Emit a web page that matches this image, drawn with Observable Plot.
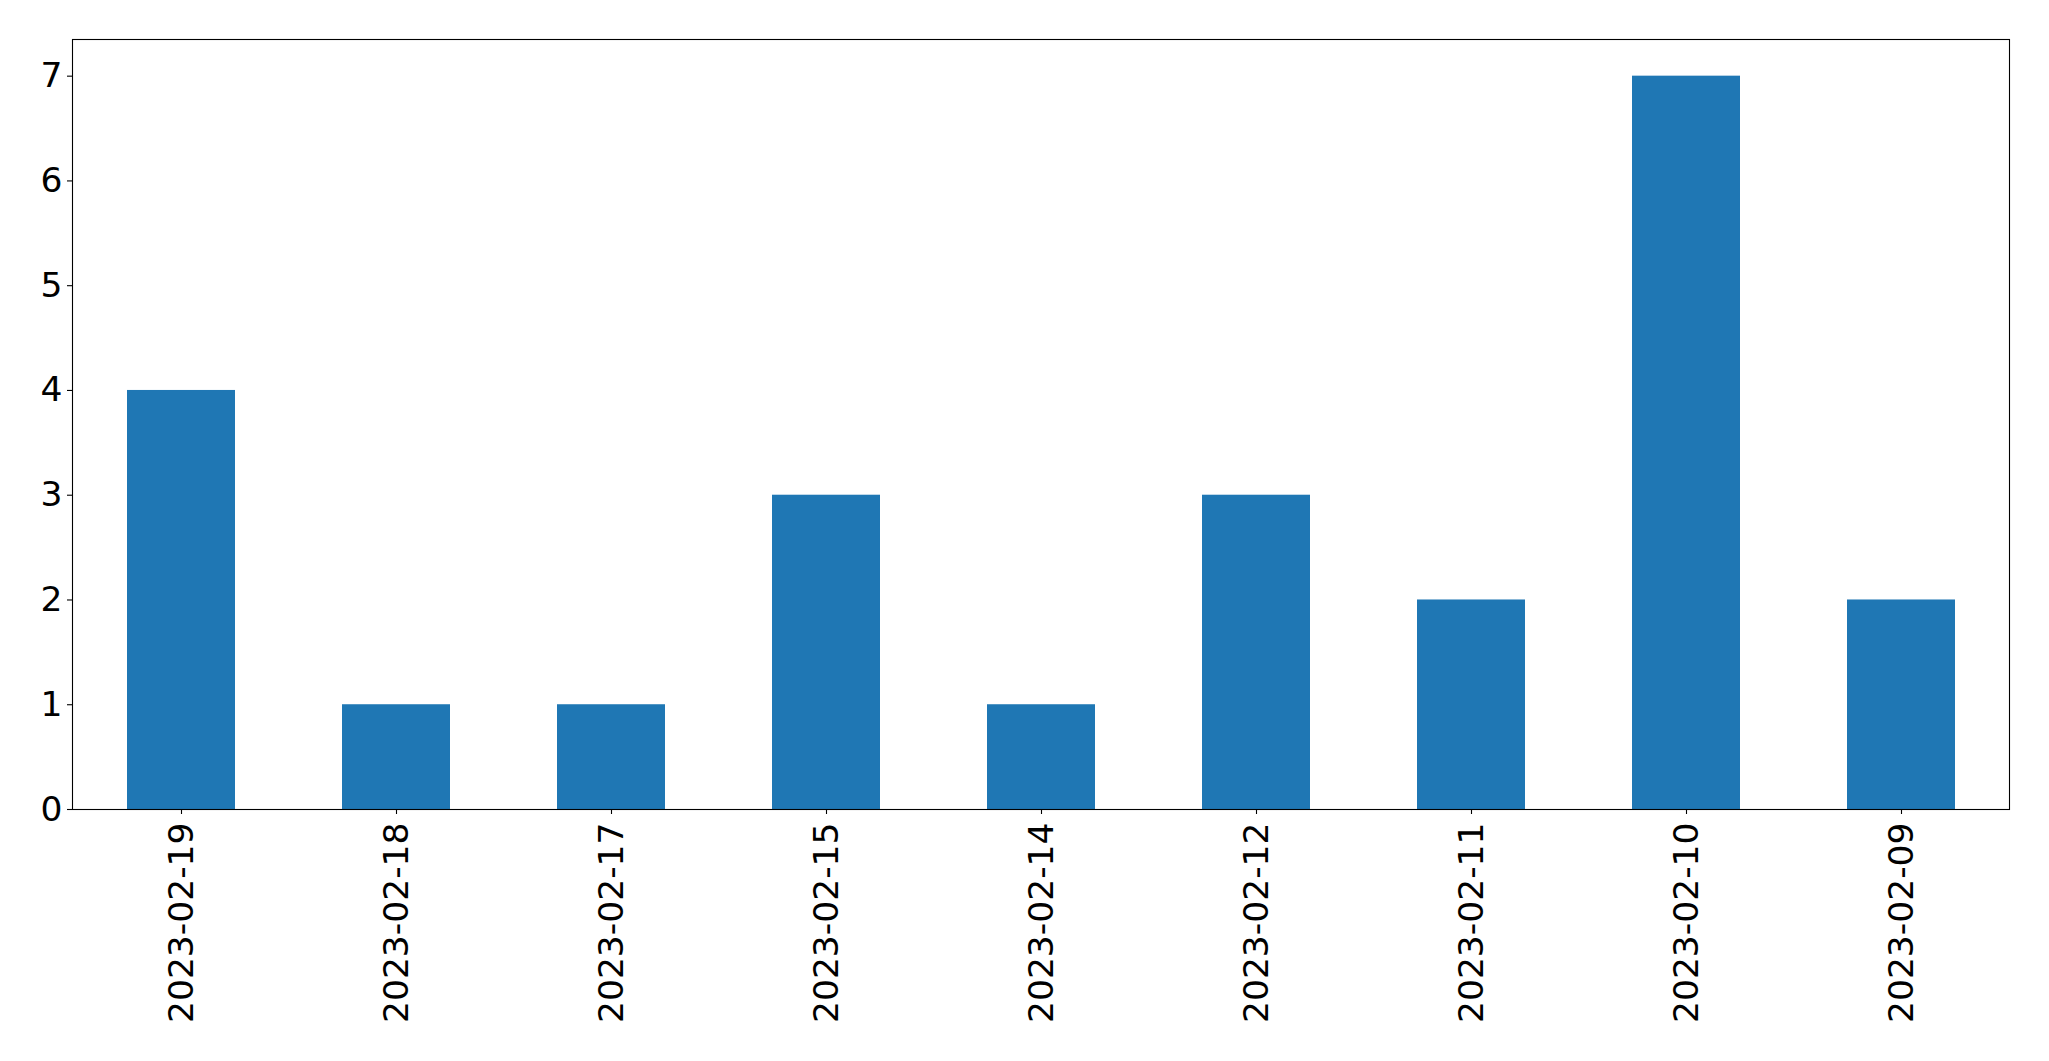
<!DOCTYPE html>
<html>
<head>
<meta charset="utf-8">
<script src="https://cdn.jsdelivr.net/npm/d3@7"></script>
<script src="https://cdn.jsdelivr.net/npm/@observablehq/plot@0.6"></script>
<style>
  html, body { margin: 0; padding: 0; background: #fff; }
  #chart svg { display: block; }
</style>
</head>
<body>
<div id="chart"></div>
<script>
const dates = ["2023-02-19","2023-02-18","2023-02-17","2023-02-15","2023-02-14","2023-02-12","2023-02-11","2023-02-10","2023-02-09"];
const counts = [4, 1, 1, 3, 1, 3, 2, 7, 2];
const yTicks = [0, 1, 2, 3, 4, 5, 6, 7];

const data = dates.map((d, i) => ({date: d, count: counts[i]}));

const chart = Plot.plot({
  width: 2049,
  height: 1061,
  marginLeft: 72,
  marginRight: 40,
  marginTop: 39,
  marginBottom: 252,
  style: {fontFamily: "DejaVu Sans", fontSize: "34.5px", color: "#000", background: "#fff"},
  x: {domain: dates, paddingInner: 0.5, paddingOuter: 0.25, label: null},
  y: {domain: [0, 7.35], label: null},
  marks: [
    Plot.barY(data, {x: "date", y: "count", fill: "#1f77b4"}),
    Plot.axisY({ticks: yTicks, tickSize: 5, tickPadding: 5, tickFormat: d3.format("d"), label: null, stroke: "#000", strokeWidth: 1.1}),
    Plot.axisX({tickSize: 5, tickPadding: 8, tickRotate: -90, label: null, stroke: "#000", strokeWidth: 1.1}),
    Plot.frame({stroke: "#000", strokeWidth: 1.1})
  ]
});
document.getElementById("chart").appendChild(chart);
</script>
</body>
</html>
